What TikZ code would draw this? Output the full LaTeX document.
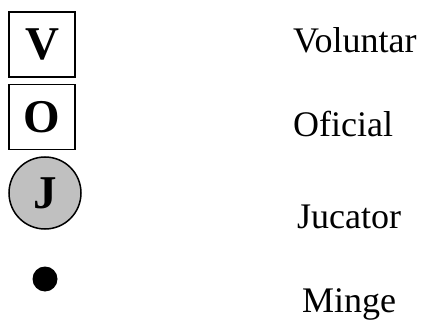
\documentclass[tikz,border=0pt]{standalone}
\usepackage{fontspec}
\setmainfont{Liberation Serif}
\usepackage{tikz}
\usetikzlibrary{shapes,positioning}

\definecolor{jgray}{RGB}{192,192,192}

\tikzset{
	rolebox/.style={draw, line width=1.5pt, minimum width=66pt, minimum height=65pt, inner sep=0pt, font=\fontsize{47}{50}\selectfont\bfseries},
	rolecircle/.style={circle, draw, line width=1.5pt, fill=jgray, minimum size=72pt, inner sep=0pt, font=\fontsize{47}{50}\selectfont\bfseries},
	balldot/.style={circle, fill=black, minimum size=25pt, inner sep=0pt},
	legend/.style={anchor=base west, inner sep=0pt, font=\fontsize{36}{40}\selectfont}
}

\begin{document}
\begin{tikzpicture}[x=1pt, y=-1pt]
		\useasboundingbox (0,0) rectangle (430,320);
		\node[rolebox] (vol) at (42,44.5) {V};
		\node[rolebox, below=6pt of vol] (ofi) {O};
		\node[rolecircle] (juc) at (45,193) {J};
		\node[balldot] (ball) at (45,279) {};
		\node[legend] (tvol) at (293,53) {Voluntar};
		\node[legend] (tofi) at (293,137) {Oficial};
		\node[legend] (tjuc) at (297,228) {Jucator};
		\node[legend] (tball) at (302,312) {Minge};
\end{tikzpicture}
\end{document}
